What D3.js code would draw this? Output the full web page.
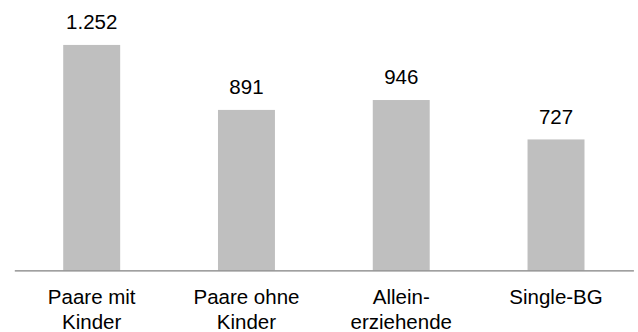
<!DOCTYPE html>
<html>
<head>
<meta charset="utf-8">
<script src="https://cdn.jsdelivr.net/npm/d3@7"></script>
<style>
  html, body { margin: 0; padding: 0; background: #fff; }
  svg { display: block; }
  text { font-family: "Liberation Sans", Arial, sans-serif; fill: #000; }
</style>
</head>
<body>
<svg id="chart" width="638" height="332"></svg>
<script>
// Household types (two-line category labels) and their values
const categories = ["Paare mit Kinder", "Paare ohne Kinder", "Allein-erziehende", "Single-BG"];
const labelLines = [["Paare mit", "Kinder"], ["Paare ohne", "Kinder"], ["Allein-", "erziehende"], ["Single-BG"]];
const values = [1252, 891, 946, 727];

const width = 638, height = 332;
const baseline = 270.3;

const svg = d3.select("#chart");

const x = d3.scaleBand()
  .domain(categories)
  .range([14.3, 633.4])
  .paddingInner(0.632)
  .paddingOuter(0.316);

const y = d3.scaleLinear()
  .domain([0, 1500])
  .range([baseline, 0.3]);

// German number format: dot as thousands separator
const de = d3.formatLocale({ decimal: ",", thousands: ".", grouping: [3], currency: ["", " €"] });
const fmt = de.format(",d");

// Bars
svg.append("g")
  .selectAll("rect")
  .data(values)
  .join("rect")
  .attr("x", (d, i) => x(categories[i]))
  .attr("y", d => y(d))
  .attr("width", x.bandwidth())
  .attr("height", d => baseline - y(d))
  .attr("fill", "#bfbfbf");

// Value labels above bars
svg.append("g")
  .selectAll("text")
  .data(values)
  .join("text")
  .attr("x", (d, i) => x(categories[i]) + x.bandwidth() / 2)
  .attr("y", d => y(d) - 15.7)
  .attr("text-anchor", "middle")
  .attr("font-size", 20.5)
  .text(d => fmt(d));

// Category axis along the baseline
const axis = d3.axisBottom(x).tickSize(0).tickFormat("");
const gx = svg.append("g")
  .attr("transform", `translate(0,${baseline})`)
  .call(axis);
gx.select(".domain").attr("stroke", "#808080").attr("stroke-width", 1.3);

// Multi-line category labels
gx.selectAll(".tick").each(function(d, i) {
  const t = d3.select(this).append("text")
    .attr("text-anchor", "middle")
    .attr("font-size", 20.5)
    .attr("y", 34);
  labelLines[i].forEach((line, k) => {
    t.append("tspan")
      .attr("x", 0)
      .attr("dy", k === 0 ? 0 : 25)
      .text(line);
  });
});
</script>
</body>
</html>
